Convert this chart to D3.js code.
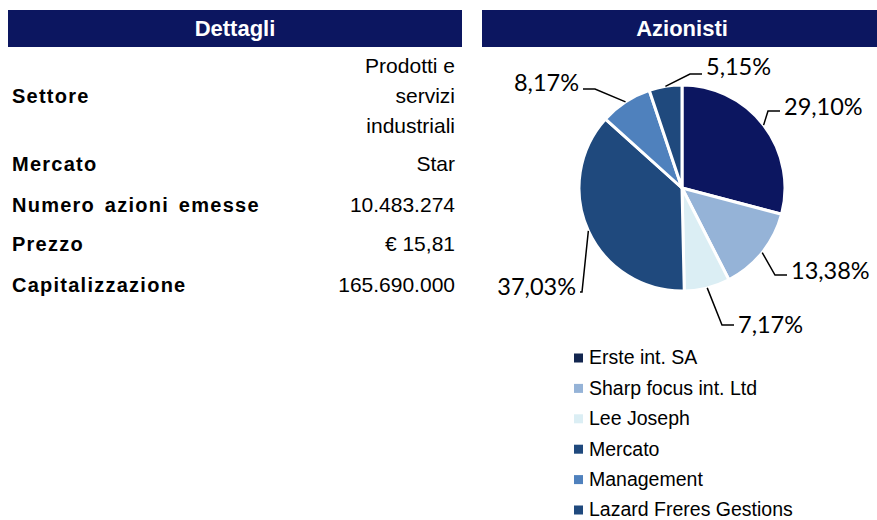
<!DOCTYPE html>
<html>
<head>
<meta charset="utf-8">
<title>Dettagli / Azionisti</title>
<script src="https://cdnjs.cloudflare.com/ajax/libs/d3/7.8.5/d3.min.js"></script>
<style>
  body { margin: 0; background: #fff; }
</style>
</head>
<body>
<script>
// table data
var detailLabels = ["Settore", "Mercato", "Numero azioni emesse", "Prezzo", "Capitalizzazione"];
var detailValues = [["Prodotti e", "servizi", "industriali"], ["Star"], ["10.483.274"], ["\u20ac 15,81"], ["165.690.000"]];

// pie data
var holders = ["Erste int. SA", "Sharp focus int. Ltd", "Lee Joseph", "Mercato", "Management", "Lazard Freres Gestions"];
var shares = [29.10, 13.38, 7.17, 37.03, 8.17, 5.15];
var shareLabels = ["29,10%", "13,38%", "7,17%", "37,03%", "8,17%", "5,15%"];

var colors = ["#0c1660", "#95b3d7", "#dbeef4", "#1f497d", "#4f81bd", "#1f497d"];
var navy = "#0c1660";

var W = 877, H = 520;
var svg = d3.select("body").append("svg").attr("width", W).attr("height", H);

// ---- left panel
svg.append("rect").attr("x", 8).attr("y", 10).attr("width", 454).attr("height", 37).attr("fill", navy);
svg.append("text").attr("x", 235).attr("y", 36).attr("text-anchor", "middle")
  .attr("font-family", "Liberation Sans, Arial, sans-serif").attr("font-weight", "bold")
  .attr("font-size", 22).attr("fill", "#fff").text("Dettagli");

var rowY = [96, 164, 205, 244, 285]; // row centres
var rows = svg.append("g").attr("font-family", "Liberation Sans, Arial, sans-serif").attr("fill", "#000");
detailLabels.forEach(function(lab, i) {
  rows.append("text").attr("x", 12).attr("y", rowY[i]).attr("dy", "0.35em")
    .attr("font-weight", "bold").attr("font-size", 20).attr("letter-spacing", 1.25)
    .attr("word-spacing", 3).text(lab);
  var vals = detailValues[i];
  vals.forEach(function(v, j) {
    rows.append("text").attr("x", 455).attr("y", rowY[i] + (j - (vals.length - 1) / 2) * 30).attr("dy", "0.35em")
      .attr("text-anchor", "end").attr("font-size", 21).text(v);
  });
});

// ---- right panel
svg.append("rect").attr("x", 482).attr("y", 10).attr("width", 395).attr("height", 37).attr("fill", navy);
svg.append("text").attr("x", 682).attr("y", 36).attr("text-anchor", "middle")
  .attr("font-family", "Liberation Sans, Arial, sans-serif").attr("font-weight", "bold")
  .attr("font-size", 22).attr("fill", "#fff").text("Azionisti");

var cx = 682, cy = 188, r = 103;
var pie = d3.pie().sort(null).value(function(d) { return d; });
var arc = d3.arc().innerRadius(0).outerRadius(r);
var arcs = pie(shares);

var g = svg.append("g").attr("transform", "translate(" + cx + "," + cy + ")");
g.selectAll("path").data(arcs).enter().append("path")
  .attr("d", arc)
  .attr("fill", function(d, i) { return colors[i]; })
  .attr("stroke", "#fff").attr("stroke-width", 3).attr("stroke-linejoin", "round");

// leader line elbows and label anchors, relative to pie centre (Excel placement)
var elbow = [[86, -77], [93, 87], [40, 137], [-100, 104], [-87, -99], [8, -114]];
var labelDir = [1, 1, 1, -1, -1, 1];
var labelLift = [-4, -4, 0, -5, -6, -7];

arcs.forEach(function(d, i) {
  var a = (d.startAngle + d.endAngle) / 2;
  var p0 = [r * Math.sin(a), -r * Math.cos(a)];
  var e = elbow[i];
  var hl = i === 3 ? 2 : 12;
  var p2 = [e[0] + labelDir[i] * hl, e[1]];
  g.append("polyline")
    .attr("points", [p0, e, p2].map(function(p) { return p.join(","); }).join(" "))
    .attr("fill", "none").attr("stroke", "#000").attr("stroke-width", 1.5);
  g.append("text")
    .attr("x", p2[0] + labelDir[i] * 4).attr("y", e[1] + labelLift[i]).attr("dy", "0.35em")
    .attr("text-anchor", labelDir[i] > 0 ? "start" : "end")
    .attr("font-family", "Lato, 'Open Sans', sans-serif").attr("font-size", 23.5)
    .attr("fill", "#000").text(shareLabels[i]);
});

// legend
var leg = svg.append("g").attr("font-family", "Liberation Sans, Arial, sans-serif").attr("font-size", 19.5);
holders.forEach(function(h, i) {
  var y = 358 + i * 30.4;
  leg.append("rect").attr("x", 574).attr("y", y - 4.5).attr("width", 9).attr("height", 9)
    .attr("fill", i === 0 ? "#13264f" : colors[i]);
  leg.append("text").attr("x", 589).attr("y", y).attr("dy", "0.33em").attr("fill", "#000").text(h);
});
</script>
</body>
</html>
